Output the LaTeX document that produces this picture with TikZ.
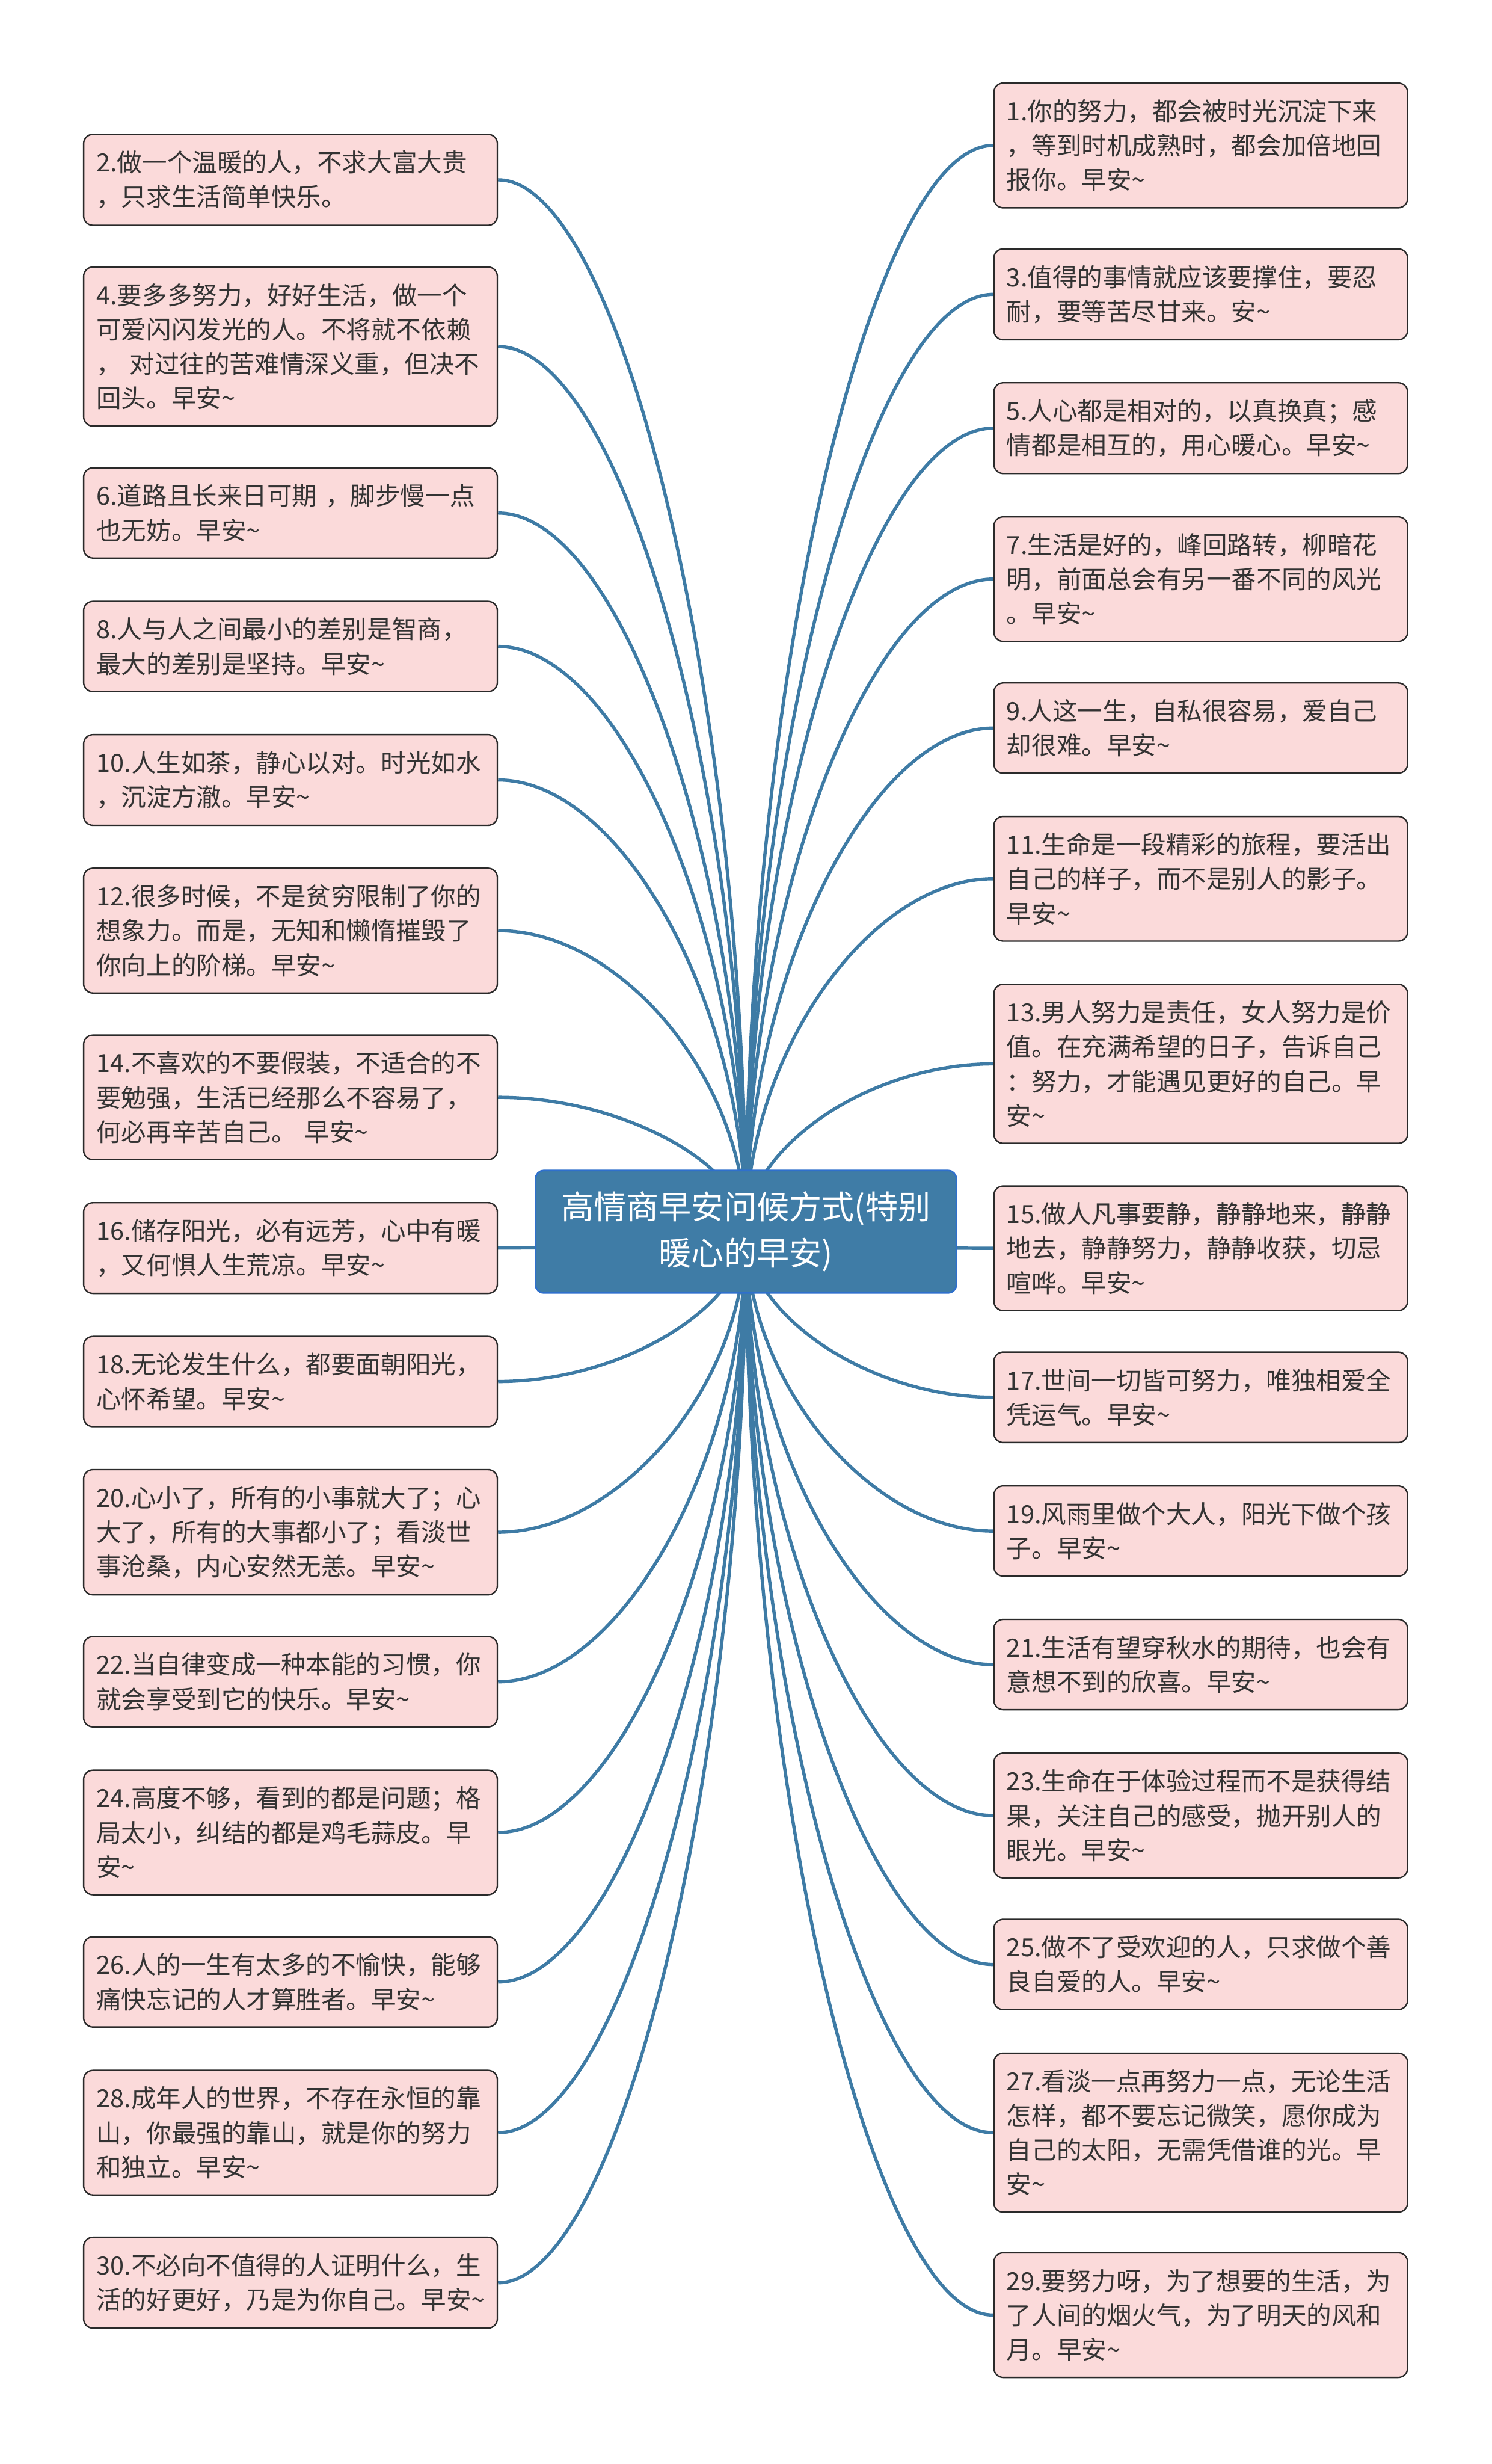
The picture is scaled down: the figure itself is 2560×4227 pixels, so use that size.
\documentclass[tikz,border=0pt]{standalone}
\usepackage{fontspec}
\setmainfont{Noto Sans CJK SC}
\usetikzlibrary{calc, backgrounds}
\definecolor{cbranch}{HTML}{3E7BA5}
\definecolor{croot}{HTML}{3F7CA6}
\definecolor{crootline}{HTML}{2F70CC}
\definecolor{cpink}{HTML}{FBDADA}
\definecolor{cink}{HTML}{333333}
\definecolor{cedge}{HTML}{2A2A2A}
\newcommand{\zao}{早安\textasciitilde}
\tikzset{
  root/.style={fill=croot, draw=crootline, line width=0.8pt, rounded corners=1.4mm, minimum width=72.2mm, minimum height=21mm, align=center, text=white, font=\fontsize{15.9pt}{22.5pt}\selectfont},
  leaf/.style={fill=cpink, draw=cedge, line width=0.7pt, rounded corners=1.6mm, text width=66.6mm, inner xsep=2.2mm, inner ysep=2.8mm, align=left, text=cink, font=\fontsize{12.2pt}{16.8pt}\selectfont},
  branch/.style={draw=cbranch, line width=1.6pt},
}

\begin{document}
\begin{tikzpicture}[x=0.1mm, y=-0.1mm]
  \useasboundingbox (0,0) rectangle (2560,4227);
  \node[root] (root) at (1280,2113) {高情商早安问候方式(特别\\暖心的早安)};
  % left column
  \node[leaf] (q2) at (498.5,308.5) {2.做一个温暖的人，不求大富大贵\\，只求生活简单快乐。};
  \node[leaf] (q4) at (498.5,594.5) {4.要多多努力，好好生活，做一个\\可爱闪闪发光的人。不将就不依赖\\，\ 对过往的苦难情深义重，但决不\\回头。\zao};
  \node[leaf] (q6) at (498.5,880) {6.道路且长来日可期\ ，脚步慢一点\\也无妨。\zao};
  \node[leaf] (q8) at (498.5,1109) {8.人与人之间最小的差别是智商，\\最大的差别是坚持。\zao};
  \node[leaf] (q10) at (498.5,1338) {10.人生如茶，静心以对。时光如水\\，沉淀方澈。\zao};
  \node[leaf] (q12) at (498.5,1596.5) {12.很多时候，不是贫穷限制了你的\\想象力。而是，无知和懒惰摧毁了\\你向上的阶梯。\zao};
  \node[leaf] (q14) at (498.5,1882.5) {14.不喜欢的不要假装，不适合的不\\要勉强，生活已经那么不容易了，\\何必再辛苦自己。\ \zao};
  \node[leaf] (q16) at (498.5,2141) {16.储存阳光，必有远芳，心中有暖\\，又何惧人生荒凉。\zao};
  \node[leaf] (q18) at (498.5,2370) {18.无论发生什么，都要面朝阳光，\\心怀希望。\zao};
  \node[leaf] (q20) at (498.5,2628.5) {20.心小了，所有的小事就大了；心\\大了，所有的大事都小了；看淡世\\事沧桑，内心安然无恙。\zao};
  \node[leaf] (q22) at (498.5,2885) {22.当自律变成一种本能的习惯，你\\就会享受到它的快乐。\zao};
  \node[leaf] (q24) at (498.5,3143.5) {24.高度不够，看到的都是问题；格\\局太小，纠结的都是鸡毛蒜皮。早\\安\textasciitilde};
  \node[leaf] (q26) at (498.5,3400) {26.人的一生有太多的不愉快，能够\\痛快忘记的人才算胜者。\zao};
  \node[leaf] (q28) at (498.5,3658.5) {28.成年人的世界，不存在永恒的靠\\山，你最强的靠山，就是你的努力\\和独立。\zao};
  \node[leaf] (q30) at (498.5,3916) {30.不必向不值得的人证明什么，生\\活的好更好，乃是为你自己。\zao};
  % right column
  \node[leaf] (q1) at (2060.5,249.5) {1.你的努力，都会被时光沉淀下来\\，等到时机成熟时，都会加倍地回\\报你。\zao};
  \node[leaf] (q3) at (2060.5,505) {3.值得的事情就应该要撑住，要忍\\耐，要等苦尽甘来。安\textasciitilde};
  \node[leaf] (q5) at (2060.5,734.5) {5.人心都是相对的，以真换真；感\\情都是相互的，用心暖心。\zao};
  \node[leaf] (q7) at (2060.5,993.5) {7.生活是好的，峰回路转，柳暗花\\明，前面总会有另一番不同的风光\\。\zao};
  \node[leaf] (q9) at (2060.5,1249) {9.人这一生，自私很容易，爱自己\\却很难。\zao};
  \node[leaf] (q11) at (2060.5,1507.5) {11.生命是一段精彩的旅程，要活出\\自己的样子，而不是别人的影子。\\\zao};
  \node[leaf] (q13) at (2060.5,1825) {13.男人努力是责任，女人努力是价\\值。在充满希望的日子，告诉自己\\：努力，才能遇见更好的自己。早\\安\textasciitilde};
  \node[leaf] (q15) at (2060.5,2141.5) {15.做人凡事要静，静静地来，静静\\地去，静静努力，静静收获，切忌\\喧哗。\zao};
  \node[leaf] (q17) at (2060.5,2397) {17.世间一切皆可努力，唯独相爱全\\凭运气。\zao};
  \node[leaf] (q19) at (2060.5,2626.5) {19.风雨里做个大人，阳光下做个孩\\子。\zao};
  \node[leaf] (q21) at (2060.5,2855.5) {21.生活有望穿秋水的期待，也会有\\意想不到的欣喜。\zao};
  \node[leaf] (q23) at (2060.5,3114.5) {23.生命在于体验过程而不是获得结\\果，关注自己的感受，抛开别人的\\眼光。\zao};
  \node[leaf] (q25) at (2060.5,3370) {25.做不了受欢迎的人，只求做个善\\良自爱的人。\zao};
  \node[leaf] (q27) at (2060.5,3658.5) {27.看淡一点再努力一点，无论生活\\怎样，都不要忘记微笑，愿你成为\\自己的太阳，无需凭借谁的光。早\\安\textasciitilde};
  \node[leaf] (q29) at (2060.5,3971.5) {29.要努力呀，为了想要的生活，为\\了人间的烟火气，为了明天的风和\\月。\zao};
  % branches behind the boxes
  \begin{scope}[on background layer]
    \fill[white] (0,0) rectangle (2560,4227);
    \foreach \k in {2,4,...,30}
      \draw[branch] let \p1=(root.center), \p2=(q\k.east) in
        (\p1) .. controls (\x1,{(\y1+\y2)/2}) and ({(\x1+\x2)/2},\y2) .. (\p2);
    \foreach \k in {1,3,...,29}
      \draw[branch] let \p1=(root.center), \p2=(q\k.west) in
        (\p1) .. controls (\x1,{(\y1+\y2)/2}) and ({(\x1+\x2)/2},\y2) .. (\p2);
  \end{scope}
\end{tikzpicture}
\end{document}
